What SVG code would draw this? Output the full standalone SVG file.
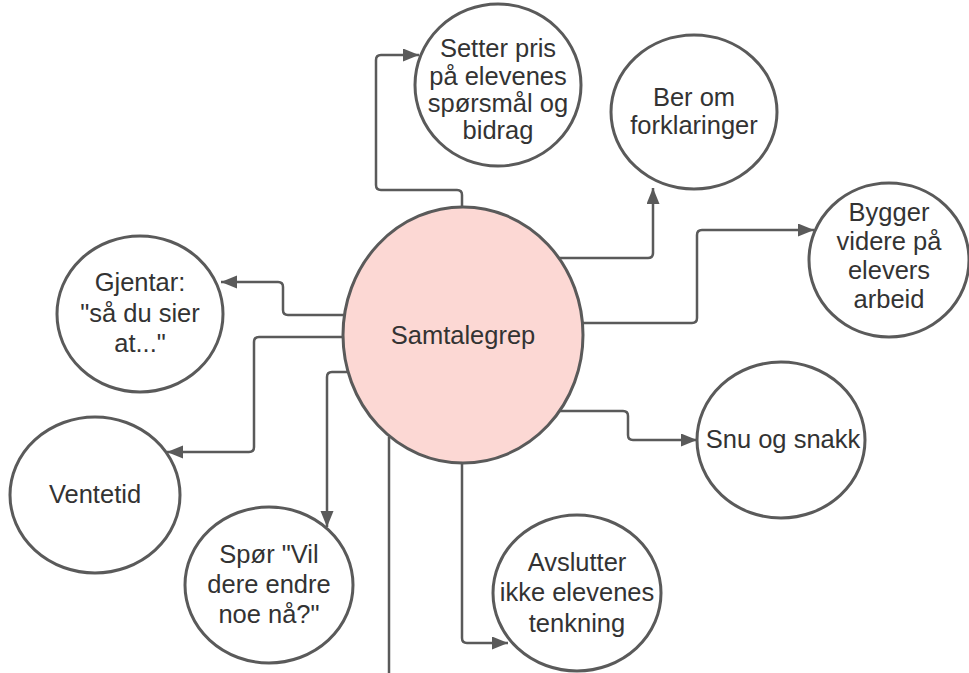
<svg xmlns="http://www.w3.org/2000/svg" width="969" height="673" viewBox="0 0 969 673">
  <style>
    .node { fill: #ffffff; stroke: #5a5a5a; stroke-width: 3; }
    .hub { fill: #fcd8d4; stroke: #5a5a5a; stroke-width: 3; }
    .lbl { font-family: "Liberation Sans", Arial, sans-serif; font-size: 25.5px; fill: #333333; text-anchor: middle; }
    .link { fill: none; stroke: #5a5a5a; stroke-width: 2.5; }
  </style>
  <defs>
    <marker id="arrow" markerUnits="userSpaceOnUse" markerWidth="18" markerHeight="14" refX="16" refY="6.5" orient="auto">
      <path d="M0,0 L16,6.5 L0,13 z" fill="#5a5a5a"/>
    </marker>
  </defs>
  <rect width="969" height="673" fill="#ffffff"/>

  <g id="connectors">
    <path class="link" marker-end="url(#arrow)" d="M462,208 V195 Q462,190 457,190 H381 Q376,190 376,185 V60 Q376,55 381,55 H419"/>
    <path class="link" marker-end="url(#arrow)" d="M557,258 H648 Q653,258 653,253 V188"/>
    <path class="link" marker-end="url(#arrow)" d="M582,323 H692 Q697,323 697,318 V235 Q697,230 702,230 H814"/>
    <path class="link" marker-end="url(#arrow)" d="M560,411 H623 Q628,411 628,416 V435 Q628,440 633,440 H697"/>
    <path class="link" marker-end="url(#arrow)" d="M462,463 V638 Q462,643 467,643 H508"/>
    <path class="link" d="M389,437 V673"/>
    <path class="link" marker-end="url(#arrow)" d="M347,372 H332 Q327,372 327,377 V527"/>
    <path class="link" marker-end="url(#arrow)" d="M344,337 H259 Q254,337 254,342 V447 Q254,452 249,452 H167"/>
    <path class="link" marker-end="url(#arrow)" d="M345,315 H288 Q283,315 283,310 V287 Q283,282 278,282 H221"/>
  </g>

  <g id="hub">
    <ellipse class="hub" cx="463" cy="335" rx="120" ry="128"/>
    <text class="lbl" x="463" y="344">Samtalegrep</text>
  </g>

  <g id="setter-pris">
    <ellipse class="node" cx="498" cy="85" rx="83" ry="81"/>
    <text class="lbl" x="498" y="57">Setter pris</text>
    <text class="lbl" x="498" y="85">på elevenes</text>
    <text class="lbl" x="498" y="112">spørsmål og</text>
    <text class="lbl" x="498" y="139">bidrag</text>
  </g>

  <g id="ber-om">
    <ellipse class="node" cx="694" cy="112" rx="83" ry="77"/>
    <text class="lbl" x="694" y="106">Ber om</text>
    <text class="lbl" x="694" y="134">forklaringer</text>
  </g>

  <g id="bygger">
    <ellipse class="node" cx="889" cy="260" rx="80" ry="77"/>
    <text class="lbl" x="889" y="221">Bygger</text>
    <text class="lbl" x="889" y="250">videre på</text>
    <text class="lbl" x="889" y="279">elevers</text>
    <text class="lbl" x="889" y="308">arbeid</text>
  </g>

  <g id="snu-og-snakk">
    <ellipse class="node" cx="781" cy="440" rx="84" ry="78"/>
    <text class="lbl" x="783" y="448">Snu og snakk</text>
  </g>

  <g id="avslutter">
    <ellipse class="node" cx="577" cy="593" rx="84" ry="78"/>
    <text class="lbl" x="577" y="571">Avslutter</text>
    <text class="lbl" x="577" y="601">ikke elevenes</text>
    <text class="lbl" x="577" y="632">tenkning</text>
  </g>

  <g id="spor">
    <ellipse class="node" cx="269" cy="585" rx="84" ry="78"/>
    <text class="lbl" x="269" y="563">Spør "Vil</text>
    <text class="lbl" x="269" y="593">dere endre</text>
    <text class="lbl" x="269" y="623">noe nå?"</text>
  </g>

  <g id="ventetid">
    <ellipse class="node" cx="95" cy="495" rx="85" ry="78"/>
    <text class="lbl" x="95" y="503">Ventetid</text>
  </g>

  <g id="gjentar">
    <ellipse class="node" cx="140" cy="314" rx="83" ry="78"/>
    <text class="lbl" x="140" y="291">Gjentar:</text>
    <text class="lbl" x="140" y="322">"så du sier</text>
    <text class="lbl" x="140" y="352">at..."</text>
  </g>
</svg>
